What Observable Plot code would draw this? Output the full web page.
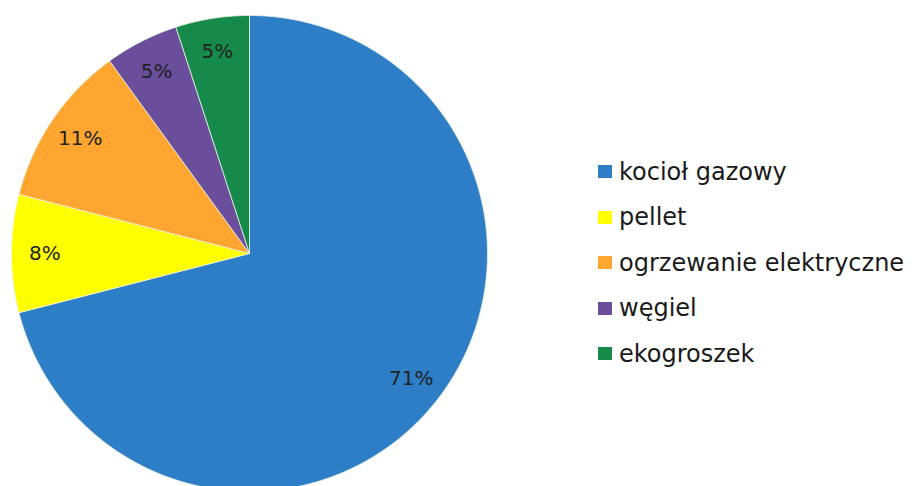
<!DOCTYPE html>
<html>
<head>
<meta charset="utf-8">
<script src="https://cdn.jsdelivr.net/npm/d3@7"></script>
<script src="https://cdn.jsdelivr.net/npm/@observablehq/plot@0.6"></script>
<style>
  html, body { margin: 0; padding: 0; background: #fff; }
  #wrap { position: relative; width: 917px; height: 486px; overflow: hidden; }
  #legend { position: absolute; left: 598px; top: 149px; font-family: "DejaVu Sans", sans-serif; font-size: 24px; color: #1a1a1a; }
  .row { display: flex; align-items: center; height: 45.5px; }
  .sw { width: 14px; height: 13px; margin-right: 7px; }
</style>
</head>
<body>
<div id="wrap"></div>
<script>
const categories = ["kocioł gazowy", "pellet", "ogrzewanie elektryczne", "węgiel", "ekogroszek"];
const values = [71, 8, 11, 5, 5];
const labels = ["71%", "8%", "11%", "5%", "5%"];
const colors = ["#2e7ec7", "#ffff00", "#ffa630", "#6a4e9c", "#168a4b"];

const data = categories.map((c, i) => ({category: c, value: values[i], label: labels[i]}));
const total = d3.sum(values);

// cumulative angles, clockwise from 12 o'clock
let acc = 0;
const slices = data.map(d => {
  const a0 = acc / total * 2 * Math.PI;
  acc += d.value;
  const a1 = acc / total * 2 * Math.PI;
  return {...d, a0, a1};
});

const pts = [];
for (const s of slices) {
  pts.push({category: s.category, x: 0, y: 0});
  const n = Math.max(2, Math.ceil((s.a1 - s.a0) / (Math.PI / 360)));
  for (let k = 0; k <= n; k++) {
    const a = s.a0 + (s.a1 - s.a0) * k / n;
    pts.push({category: s.category, x: Math.sin(a), y: Math.cos(a)});
  }
  pts.push({category: s.category, x: 0, y: 0});
}

const labelR = 0.86;
const labelPts = slices.map(s => {
  const m = (s.a0 + s.a1) / 2;
  return {label: s.label, x: labelR * Math.sin(m), y: labelR * Math.cos(m)};
});

const cx = 249, cy = 253, r = 238;
const chart = Plot.plot({
  width: 917,
  height: 486,
  margin: 0,
  x: {domain: [-1, 1], range: [cx - r, cx + r], axis: null},
  y: {domain: [-1, 1], range: [cy + r, cy - r], axis: null},
  color: {domain: categories, range: colors},
  style: {background: "white"},
  marks: [
    Plot.line(pts, {x: "x", y: "y", z: "category", fill: "category", stroke: "#e8f3e0", strokeWidth: 0.8, curve: "linear"}),
    Plot.text(labelPts, {x: "x", y: "y", text: "label", fontSize: 20, fill: "#222", fontFamily: "DejaVu Sans"})
  ]
});
const wrap = document.getElementById("wrap");
wrap.appendChild(chart);

const legend = document.createElement("div");
legend.id = "legend";
categories.forEach((c, i) => {
  const row = document.createElement("div");
  row.className = "row";
  const sw = document.createElement("span");
  sw.className = "sw";
  sw.style.background = colors[i];
  const t = document.createElement("span");
  t.textContent = c;
  row.appendChild(sw);
  row.appendChild(t);
  legend.appendChild(row);
});
wrap.appendChild(legend);
</script>
</body>
</html>
